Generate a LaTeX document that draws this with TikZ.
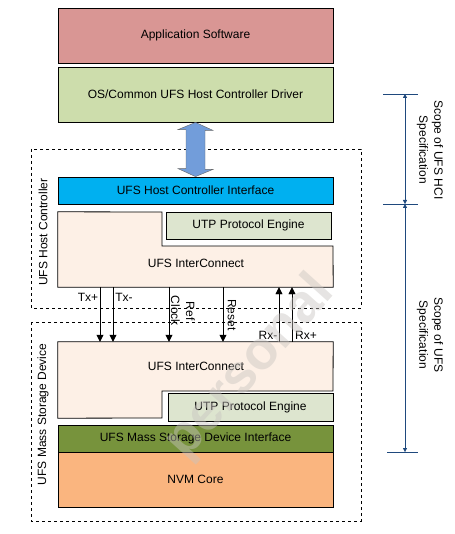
\documentclass[tikz,border=0pt]{standalone}
\usepackage{fontspec}
\setmainfont{Liberation Sans}
\usetikzlibrary{arrows.meta,positioning}
\definecolor{appred}{HTML}{D99694}
\definecolor{osgreen}{HTML}{CDDDAC}
\definecolor{hcicyan}{HTML}{00B0F0}
\definecolor{utpgreen}{HTML}{DDE5CF}
\definecolor{icpeach}{HTML}{FDF0E6}
\definecolor{msdgreen}{HTML}{77933C}
\definecolor{nvmorange}{HTML}{FAB57F}
\definecolor{arrowblue}{HTML}{729DDA}
\definecolor{scopeblue}{HTML}{1F497D}
\definecolor{markgray}{HTML}{C8C4C0}
\tikzset{
  block/.style={draw, thick, minimum width=275pt, inner sep=0pt},
  sig/.style={-{Triangle[width=7pt,length=7pt]}},
  scope/.style={draw=scopeblue, {Triangle[width=4pt,length=4pt]}-{Triangle[width=4pt,length=4pt]}},
  sidelabel/.style={rotate=90},
  scopelabel/.style={rotate=-90, align=center}
}

\begin{document}
\begin{tikzpicture}[x=1pt,y=-1pt,font=\fontsize{12}{15}\selectfont]
  \useasboundingbox (0,0) rectangle (454,534);
  % dashed outlines
  \draw[dashed] (31,149) rectangle (361,308);
  \draw[dashed] (31,322) rectangle (361,521);
  \node[sidelabel] (HostLbl) at (43,232) {UFS Host Controller};
  \node[sidelabel] (DevLbl) at (43,414.5) {UFS Mass Storage Device};
  % host stack
  \node[block, fill=appred, minimum height=55pt] (App) at (195.5,35.5) {Application Software};
  \node[block, fill=osgreen, minimum height=55pt] (OS) at (195.5,94.5) {OS/Common UFS Host Controller Driver};
  \node[block, fill=hcicyan, minimum height=27pt] (HCI) at (195.5,190.5) {UFS Host Controller Interface};
  \node[draw, thick, fill=utpgreen, minimum width=165pt, minimum height=27pt] (UTPH) at (248.5,225.5) {UTP Protocol Engine};
  \node[minimum width=275pt, minimum height=75pt, inner sep=0pt] (ICH) at (195.5,249.5) {};
  \draw[thick, fill=icpeach] (ICH.north west) -- (162,212) -- (162,246) -- (333,246)
    -- (ICH.south east) -- (ICH.south west) -- cycle;
  \node (ICHLbl) at (196,263) {UFS InterConnect};
  % device stack
  \node[minimum width=275pt, minimum height=76pt, inner sep=0pt] (ICD) at (195.5,380) {};
  \draw[thick, fill=icpeach] (ICD.north west) -- (ICD.north east) -- (333,391) -- (162,391)
    -- (162,418) -- (ICD.south west) -- cycle;
  \node (ICDLbl) at (196,366) {UFS InterConnect};
  \node[draw, thick, fill=utpgreen, minimum width=165pt, minimum height=28pt] (UTPD) at (250.5,407) {UTP Protocol Engine};
  \node[block, fill=msdgreen, minimum height=27pt] (MSD) at (195.5,438.5) {UFS Mass Storage Device Interface};
  \node[block, fill=nvmorange, minimum height=55pt] (NVM) at (195.5,479.5) {NVM Core};
  % host driver <-> interface
  \filldraw[draw=black!60, fill=arrowblue] (OS.south) -- ++(17.5,8) -- ++(-8,0) -- ++(0,39)
    -- ++(8,0) -- (HCI.north) -- ++(-17.5,-8) -- ++(8,0) -- ++(0,-39) -- ++(-8,0) -- cycle;
  % signals
  \foreach \x in {100,113,169,223}
    \draw[sig] (ICH.south -| \x,0) -- (ICD.north -| \x,0);
  \foreach \x in {279,292}
    \draw[sig] (ICD.north -| \x,0) -- (ICH.south -| \x,0);
  \node (TxP) at (88,297) {Tx+};
  \node (TxM) at (124,297) {Tx-};
  \node[scopelabel] (RefClk) at (183,311) {Ref\\Clock};
  \node[rotate=-90] (Rst) at (232,315) {Reset};
  \node (RxM) at (268,335) {Rx-};
  \node (RxP) at (306,335) {Rx+};
  % scope of specifications
  \coordinate (ScA) at (405,94);
  \coordinate (ScB) at (405,204);
  \coordinate (ScC) at (405,452);
  \draw[scopeblue] (ScA) ++(-22,0) -- ++(35,0);
  \draw[scopeblue] (ScB) ++(-22,0) -- ++(35,0);
  \draw[scopeblue] (ScC) ++(-18,0) -- ++(31,0);
  \draw[scope] (ScA) -- (ScB);
  \draw[scope] (ScB) -- (ScC);
  \node[scopelabel] (HciScope) at (430,150) {Scope of UFS HCI\\Specification};
  \node[scopelabel] (UfsScope) at (430,335) {Scope of UFS\\Specification};
  % watermark
  \node[rotate=48, text=markgray, opacity=0.45, font=\fontsize{54}{54}\bfseries\selectfont] (Mark) at (250,368) {personal};
\end{tikzpicture}
\end{document}
